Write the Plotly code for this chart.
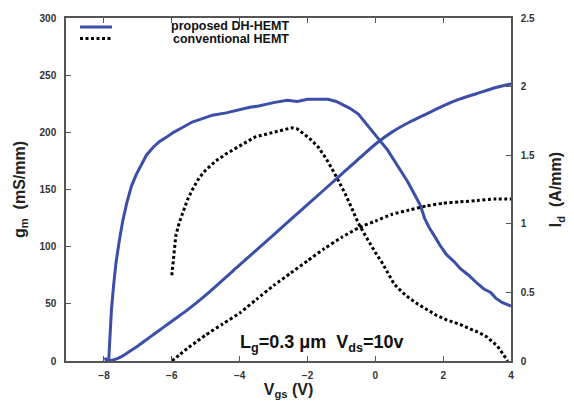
import plotly.graph_objects as go

# ---- data ----
vgs_gm_dh = [-7.97, -7.92, -7.86, -7.82, -7.78, -7.72, -7.65, -7.55, -7.45, -7.33, -7.19, -7.05,
             -6.9, -6.75, -6.55, -6.36, -6.15, -5.95, -5.7, -5.4, -5.1, -4.8, -4.4, -4.0, -3.7,
             -3.44, -3.0, -2.6, -2.3, -2.0, -1.7, -1.4, -1.15, -0.95, -0.75, -0.5, -0.3, -0.1,
             0.13, 0.35, 0.55, 0.74, 0.95, 1.15, 1.33, 1.45, 1.6, 1.75, 1.91, 2.1, 2.32, 2.5,
             2.75, 3.0, 3.2, 3.4, 3.55, 3.75, 3.9, 4.0]
gm_dh = [3, 0, 1, 25, 45, 65, 85, 105, 122, 138, 153, 163,
         172, 180, 187, 192, 196, 200, 204, 209, 212, 215, 217, 220, 222,
         223, 226, 228, 227, 229, 229, 229, 227, 224, 221, 216, 209, 201,
         193, 185, 176, 167, 157, 146, 136, 125, 116, 109, 101, 93, 87, 81,
         75, 68, 63, 60, 55, 51, 49, 48]

vgs_gm_conv = [-6.0, -5.94, -5.88, -5.78, -5.68, -5.54, -5.39, -5.2, -5.0, -4.7, -4.41, -4.0,
               -3.54, -3.0, -2.7, -2.46, -2.3, -2.17, -1.95, -1.68, -1.45, -1.2, -0.9, -0.7,
               -0.51, -0.3, -0.13, 0.0, 0.2, 0.36, 0.56, 0.8, 1.0, 1.24, 1.5, 1.8, 2.1, 2.5,
               2.8, 3.05, 3.29, 3.45, 3.6, 3.72, 3.82, 3.9]
gm_conv = [75, 95, 110, 121, 130, 141, 150, 160, 167, 175, 181, 188,
           196, 200, 202, 204, 203, 200, 195, 187, 177, 164, 147, 134,
           121, 110, 101, 95, 86, 78, 67, 60, 55, 50, 45, 40, 36, 32,
           28, 25, 21, 17, 13, 8, 3, 0]

vgs_id_dh = [-7.9, -7.7, -7.5, -7.25, -7.0, -6.75, -6.5, -6.25, -6.0, -5.5, -5.0, -4.0, -3.0,
             -2.0, -1.0, 0.0, 0.5, 1.0, 1.5, 2.0, 2.5, 3.0, 3.5, 4.0]
id_dh = [0.0, 0.01, 0.03, 0.07, 0.11, 0.155, 0.2, 0.245, 0.29, 0.38, 0.48, 0.70, 0.92,
         1.14, 1.36, 1.58, 1.67, 1.74, 1.80, 1.86, 1.91, 1.95, 1.99, 2.02]

vgs_id_conv = [-6.0, -5.75, -5.5, -5.25, -5.0, -4.5, -4.0, -3.5, -3.0, -2.5, -2.0, -1.5, -1.0,
               -0.5, 0.0, 0.5, 1.0, 1.5, 2.0, 2.5, 3.0, 3.5, 4.0]
id_conv = [0.0, 0.05, 0.1, 0.145, 0.19, 0.27, 0.35, 0.45, 0.55, 0.64, 0.73, 0.82, 0.90,
           0.97, 1.02, 1.07, 1.10, 1.13, 1.15, 1.16, 1.17, 1.18, 1.18]

legend_labels = ["proposed DH-HEMT", "conventional HEMT"]

BLUE = "#3b4fa8"
AXC = "#555555"
FONT = "Liberation Sans"
DOT = "3px,2.5px"

fig = go.Figure()
fig.add_trace(go.Scatter(x=vgs_gm_dh, y=gm_dh, mode="lines", name=legend_labels[0],
                         line=dict(color=BLUE, width=3), showlegend=False))
fig.add_trace(go.Scatter(x=vgs_id_dh, y=id_dh, mode="lines", yaxis="y2",
                         line=dict(color=BLUE, width=3, shape="spline", smoothing=0.5),
                         showlegend=False))
fig.add_trace(go.Scatter(x=vgs_gm_conv, y=gm_conv, mode="lines", name=legend_labels[1],
                         line=dict(color="black", width=3, dash=DOT), showlegend=False))
fig.add_trace(go.Scatter(x=vgs_id_conv, y=id_conv, mode="lines", yaxis="y2",
                         line=dict(color="black", width=3, dash=DOT, shape="spline", smoothing=0.5),
                         showlegend=False))

tickfont = dict(family=FONT, size=10, color="#333333", weight="bold")
titlefont = dict(family=FONT, size=16, color="#222222", weight="bold")

fig.update_layout(
    width=574, height=410,
    margin=dict(l=66, r=63, t=12, b=49),
    paper_bgcolor="white", plot_bgcolor="white",
    xaxis=dict(range=[-9.12, 4], tickvals=[-8, -6, -4, -2, 0, 2, 4],
               ticks="inside", ticklen=5, tickcolor=AXC, tickwidth=1.2,
               showline=True, linecolor=AXC, linewidth=1.5, mirror="ticks",
               showgrid=False, zeroline=False, tickfont=tickfont,
               ticklabelstandoff=4,
               title=dict(text="V<sub>gs</sub> (V)", font=titlefont, standoff=4)),
    yaxis=dict(range=[0, 300], tickvals=[0, 50, 100, 150, 200, 250, 300],
               ticks="inside", ticklen=5, tickcolor=AXC, tickwidth=1.2,
               showline=True, linecolor=AXC, linewidth=1.5,
               showgrid=False, zeroline=False, tickfont=tickfont,
               ticklabelstandoff=6,
               title=dict(text="g<sub>m</sub>  (mS/mm)", font=titlefont, standoff=10)),
    yaxis2=dict(range=[0, 2.5], tickvals=[0, 0.5, 1, 1.5, 2, 2.5],
                overlaying="y", side="right",
                ticks="inside", ticklen=5, tickcolor=AXC, tickwidth=1.2,
                showline=True, linecolor=AXC, linewidth=1.5,
                showgrid=False, zeroline=False, tickfont=tickfont,
                ticklabelstandoff=6,
                title=dict(text="I<sub>d</sub>  (A/mm)", font=titlefont, standoff=16)),
    showlegend=False,
)

# custom legend (gnuplot style: sample on left, right-aligned text)
fig.add_shape(type="line", xref="paper", yref="paper", x0=0.0315, x1=0.1034, y0=0.974, y1=0.974,
              line=dict(color=BLUE, width=3))
fig.add_shape(type="line", xref="paper", yref="paper", x0=0.0315, x1=0.1034, y0=0.940, y1=0.940,
              line=dict(color="black", width=3, dash=DOT))
for lbl, yp in zip(legend_labels, [0.977, 0.938]):
    fig.add_annotation(text=lbl, xref="paper", yref="paper", x=0.5056, y=yp,
                       xanchor="right", yanchor="middle", showarrow=False,
                       font=dict(family=FONT, size=12.5, color="#111111", weight="bold"))

fig.add_annotation(text="L<sub>g</sub>=0.3 μm  V<sub>ds</sub>=10v", xref="paper", yref="paper",
                   x=0.386, y=0.05, xanchor="left", yanchor="middle", showarrow=False,
                   font=dict(family=FONT, size=18, color="#111111", weight="bold"))

fig.write_html("out.html")
